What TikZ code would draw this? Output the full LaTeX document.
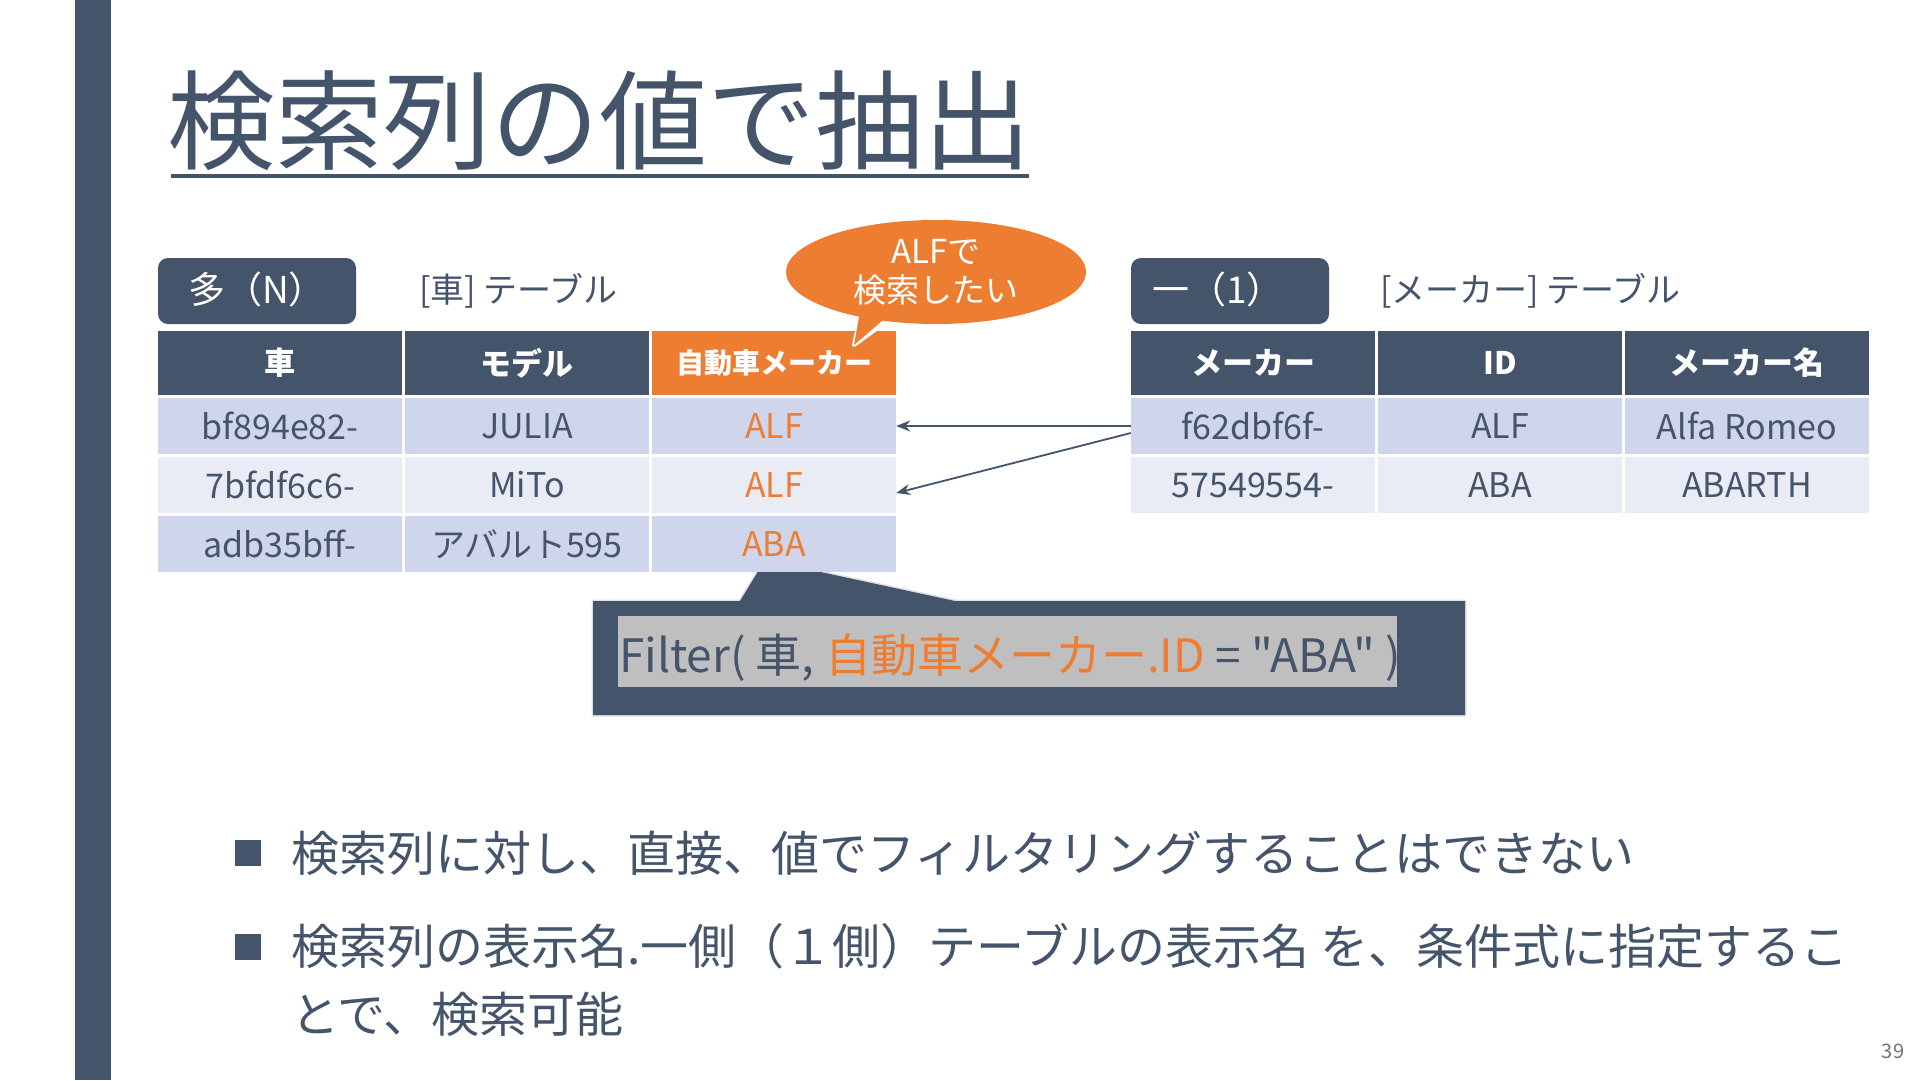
\documentclass[tikz,border=0pt]{standalone}
\usepackage{fontspec}
\setmainfont{Noto Sans CJK JP}
\newfontfamily\nomapfont{Noto Sans CJK JP}[Ligatures=TeXOff]
\usetikzlibrary{arrows.meta,calc}
\definecolor{dk}{HTML}{44546A}
\definecolor{og}{HTML}{ED7D31}
\definecolor{rA}{HTML}{CFD5EA}
\definecolor{rB}{HTML}{E9EBF5}
\definecolor{gy}{HTML}{BFBFBF}
\newcommand\myfs[1]{\fontsize{#1}{#1}\selectfont}
\begin{document}
\begin{tikzpicture}[x=1pt,y=-1pt,
  cell/.style={rectangle, inner sep=0pt, minimum width=244pt, minimum height=56pt, text=dk, font=\myfs{34}},
  cellA/.style={cell, fill=rA},
  cellB/.style={cell, fill=rB},
  hcell/.style={cell, minimum height=64pt, fill=dk, text=white, font=\myfs{31}\bfseries},
  lbl/.style={rectangle, rounded corners=10pt, fill=dk, minimum width=198pt, minimum height=66pt, inner sep=0pt},
  lbltext/.style={anchor=west, inner sep=0pt, text=white, font=\myfs{37}},
  tabname/.style={anchor=west, inner sep=0pt, text=dk, font=\myfs{34}},
  conn/.style={draw=dk, line width=1.8pt, -{Stealth[length=14pt,width=11pt]}},
  bul/.style={rectangle, fill=dk, minimum width=26pt, minimum height=26pt, inner sep=0pt},
  btext/.style={anchor=base west, inner sep=0pt, text=dk, font=\myfs{48}}
]
\useasboundingbox (0,0) rectangle (1920,1080);
\fill[white] (0,0) rectangle (1920,1080);
% left bar
\fill[dk] (75,0) rectangle (111,1080);

% title
\node[anchor=base west, inner sep=0pt, text=dk, font=\myfs{108}] (title) at (167,161) {検索列の値で抽出};
\draw[dk, line width=4pt] ($(title.south west)+(4,6)$) -- ($(title.south east)+(-2,6)$);

% labels
\node[lbl] (lblL) at (257,291) {};
\node[lbltext] (lblLt) at (188,289) {多（N）};
\node[tabname] (tnL) at (419,291) {[車] テーブル};
\node[lbl] (lblR) at (1230,291) {};
\node[lbltext] (lblRt) at (1152,289) {一（1）};
\node[tabname] (tnR) at (1380,291) {[メーカー] テーブル};

% filter box (drawn before table so its tail tip is hidden)
\path[draw=black!12, line width=3pt, line join=round] (593,601) -- (740,601) -- (765,560) -- (955,601) -- (1465,601) -- (1465,715) -- (593,715) -- cycle;
\fill[dk] (593,601) -- (740,601) -- (765,560) -- (955,601) -- (1465,601) -- (1465,715) -- (593,715) -- cycle;
\node[fill=gy, minimum width=779pt, minimum height=71pt, inner sep=0pt] (fg) at (1007.5,651.5) {};
\node[anchor=west, inner sep=0pt, text=dk, font=\nomapfont\myfs{46}] (ftext) at ($(fg.west)+(1,6)$)
  {Filter( 車, \textcolor{og}{自動車メーカー.ID} = "ABA" )};

% left table
\node[hcell] (h1) at (280,363) {車};
\node[hcell] (h2) at (527,363) {モデル};
\node[hcell, fill=og, font=\myfs{28}\bfseries] (h3) at (774,363) {自動車メーカー};
\node[cellA] (c11) at (280,426) {bf894e82-};
\node[cellA] (c12) at (527,426) {JULIA};
\node[cellA, text=og] (c13) at (774,426) {ALF};
\node[cellB] (c21) at (280,485) {7bfdf6c6-};
\node[cellB] (c22) at (527,485) {MiTo};
\node[cellB, text=og] (c23) at (774,485) {ALF};
\node[cellA] (c31) at (280,544) {adb35bff-};
\node[cellA] (c32) at (527,544) {アバルト595};
\node[cellA, text=og] (c33) at (774,544) {ABA};

% right table
\node[hcell] (k1) at (1253,363) {メーカー};
\node[hcell] (k2) at (1500,363) {ID};
\node[hcell] (k3) at (1747,363) {メーカー名};
\node[cellA] (m11) at (1253,426) {f62dbf6f-};
\node[cellA] (m12) at (1500,426) {ALF};
\node[cellA] (m13) at (1747,426) {Alfa Romeo};
\node[cellB] (m21) at (1253,485) {57549554-};
\node[cellB] (m22) at (1500,485) {ABA};
\node[cellB] (m23) at (1747,485) {ABARTH};

% connectors
\draw[conn] (m11.west) -- (c13.east);
\draw[conn] ($(m11.west)+(0,7)$) -- ($(c23.east)+(0,8)$);

% callout
\path[draw=white, line width=4pt, line join=round] (936,272) ellipse [x radius=150pt, y radius=52pt]
  (862,308) -- (854,345) -- (897,314);
\fill[og] (936,272) ellipse [x radius=150pt, y radius=52pt];
\fill[og] (862,300) -- (854,345) -- (897,308) -- cycle;
\node[align=center, inner sep=0pt, text=white, font=\fontsize{33}{39}\selectfont] (callout) at (936,272) {ALFで\\検索したい};

% bullets
\node[bul] (b1) at (248,853) {};
\node[btext] (t1) at (291,871) {検索列に対し、直接、値でフィルタリングすることはできない};
\node[bul] (b2) at (248,947) {};
\node[btext] (t2) at (291,964) {検索列の表示名.一側（１側）テーブルの表示名 を、条件式に指定するこ};
\node[btext] (t3) at (291,1032) {とで、検索可能};

% page number
\node[inner sep=0pt, text=black!55, font=\myfs{20}] (pg) at (1893,1051) {39};
\end{tikzpicture}
\end{document}
